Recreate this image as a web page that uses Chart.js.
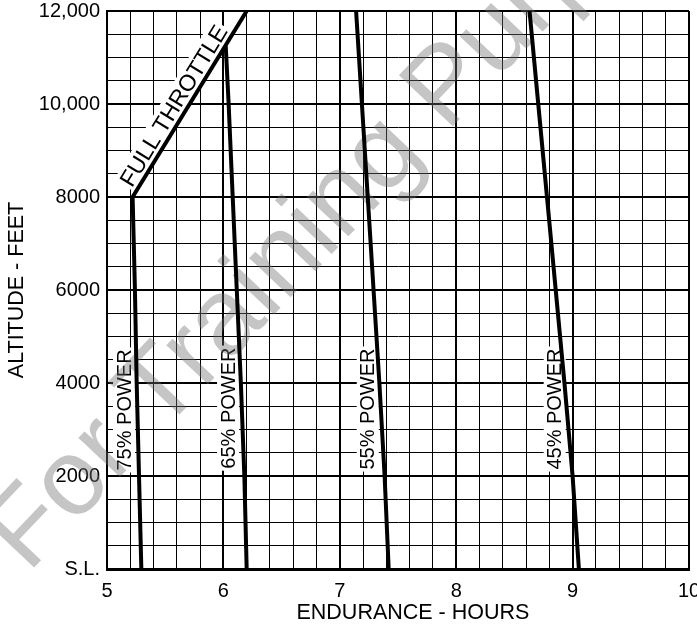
<!DOCTYPE html>
<html><head><meta charset="utf-8">
<script src="https://cdn.jsdelivr.net/npm/chart.js@4"></script>
<style>html,body{margin:0;padding:0;background:#fff;} #wrap{position:relative;width:697px;height:630px;}</style>
</head><body><div id="wrap"><canvas id="c"></canvas></div>
<script>
// ---- data ----
const xTickValues = [5, 6, 7, 8, 9, 10];
const xTickLabels = ['5', '6', '7', '8', '9', '10'];
const yTickValues = [0, 2000, 4000, 6000, 8000, 10000, 12000];
const yTickLabels = ['S.L.', '2000', '4000', '6000', '8000', '10,000', '12,000'];

const fullThrottleHours = [5.22, 6.20];
const fullThrottleAlt   = [8000, 12000];
const power75Hours = [5.295, 5.275, 5.255, 5.24, 5.22];
const power75Alt   = [0, 2000, 4000, 6000, 8000];
const power65Hours = [6.20, 6.18, 6.15, 6.115, 6.08, 6.045, 6.02];
const power65Alt   = [0, 2000, 4000, 6000, 8000, 10000, 11250];
const power55Hours = [7.42, 7.385, 7.34, 7.29, 7.24, 7.19, 7.14];
const power55Alt   = [0, 2000, 4000, 6000, 8000, 10000, 12000];
const power45Hours = [9.054, 9.00, 8.93, 8.855, 8.78, 8.705, 8.63];
const power45Alt   = [0, 2000, 4000, 6000, 8000, 10000, 12000];

const curveNames = ['FULL THROTTLE', '75% POWER', '65% POWER', '55% POWER', '45% POWER'];
// label anchor (data coords)
const labelHours = [5.575, 5.146, 6.04, 7.24, 8.846];
const labelAlt   = [9960, 3420, 3460, 3440, 3440];

const watermarkText = 'For Training Purposes';

function pts(xs, ys) { return xs.map((x, i) => ({x: x, y: ys[i]})); }
const FONT = '"Liberation Sans", Arial, Helvetica, sans-serif';
const isMult = (v, m) => Math.abs(v / m - Math.round(v / m)) < 1e-6;

const series = [
  pts(fullThrottleHours, fullThrottleAlt),
  pts(power75Hours, power75Alt),
  pts(power65Hours, power65Alt),
  pts(power55Hours, power55Alt),
  pts(power45Hours, power45Alt)
];

const labelPlugin = {
  id: 'curveLabels',
  beforeDatasetsDraw(chart) {
    const ctx = chart.ctx, xs = chart.scales.x, ys = chart.scales.y;
    const ftA = Math.atan2(
      ys.getPixelForValue(fullThrottleAlt[1]) - ys.getPixelForValue(fullThrottleAlt[0]),
      xs.getPixelForValue(fullThrottleHours[1]) - xs.getPixelForValue(fullThrottleHours[0]));
    curveNames.forEach((t, i) => {
      const px = xs.getPixelForValue(labelHours[i]);
      const py = ys.getPixelForValue(labelAlt[i]);
      const rot = i === 0 ? ftA : -Math.PI / 2;
      const size = i === 0 ? 23 : 20;
      ctx.save();
      ctx.translate(px, py);
      ctx.rotate(rot);
      ctx.font = size + 'px ' + FONT;
      const w = ctx.measureText(t).width;
      ctx.fillStyle = '#fff';
      ctx.fillRect(-w / 2 - 2, -size * 0.55, w + 4, size * 1.1);
      ctx.fillStyle = '#000';
      ctx.textAlign = 'center';
      ctx.textBaseline = 'middle';
      ctx.fillText(t, 0, 1);
      ctx.restore();
    });
    // watermark
    ctx.save();
    ctx.translate(28, 574);
    ctx.rotate(-46.5 * Math.PI / 180);
    ctx.font = '108px ' + FONT;
    ctx.fillStyle = 'rgba(110,110,110,0.40)';
    ctx.textAlign = 'left';
    ctx.textBaseline = 'alphabetic';
    ctx.fillText(watermarkText, 0, 0);
    ctx.restore();
  }
};

new Chart(document.getElementById('c'), {
  type: 'scatter',
  data: {
    datasets: series.map((d, i) => ({
      label: curveNames[i],
      data: d,
      showLine: true,
      borderColor: '#000',
      backgroundColor: '#000',
      borderWidth: 4,
      pointRadius: 0,
      tension: 0,
      borderJoinStyle: 'round'
    }))
  },
  options: {
    responsive: true,
    maintainAspectRatio: false,
    animation: false,
    layout: { padding: { left: 0, right: 8, top: 11, bottom: 0 } },
    plugins: { legend: { display: false }, tooltip: { enabled: false } },
    scales: {
      x: {
        type: 'linear', min: 5, max: 10,
        afterFit(s) { s.height = 61; s.paddingLeft = 0; s.paddingRight = 0; },
        border: { display: true, color: '#000', width: 3 },
        grid: {
          color: '#000', drawTicks: false,
          lineWidth: (c) => (c.tick && isMult(c.tick.value, 1)) ? 2 : 1
        },
        ticks: {
          stepSize: 0.2, autoSkip: false, maxRotation: 0, padding: 10,
          color: '#000', font: { family: FONT, size: 20 },
          callback: (v) => { const k = xTickValues.findIndex(t => Math.abs(t - v) < 1e-6); return k >= 0 ? xTickLabels[k] : ''; }
        },
        title: {
          display: true, text: '     ENDURANCE - HOURS', color: '#000',
          font: { family: FONT, size: 21.5 }, padding: { top: 0, bottom: 4 }
        }
      },
      y: {
        type: 'linear', min: 0, max: 12000,
        afterFit(s) { s.width = 107; s.paddingTop = 0; s.paddingBottom = 0; },
        border: { display: true, color: '#000', width: 2 },
        grid: {
          color: '#000', drawTicks: false,
          lineWidth: (c) => (c.tick && isMult(c.tick.value, 2000)) ? 2 : 1
        },
        ticks: {
          stepSize: 500, autoSkip: false, padding: 7,
          color: '#000', font: { family: FONT, size: 20 },
          callback: (v) => { const k = yTickValues.indexOf(v); return k >= 0 ? yTickLabels[k] : ''; }
        },
        title: {
          display: true, text: 'ALTITUDE - FEET', color: '#000',
          font: { family: FONT, size: 21.5 }, padding: { top: 4, bottom: 0 }
        }
      }
    }
  },
  plugins: [labelPlugin]
});
</script></body></html>
